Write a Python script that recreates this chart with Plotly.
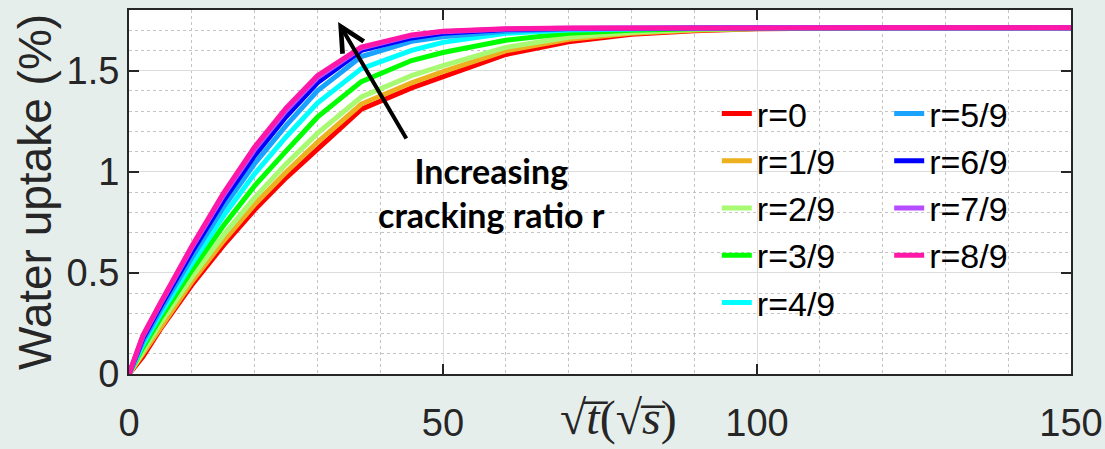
import plotly.graph_objects as go

# sqrt(t) sample points, in sqrt(s)
sqrt_t = [0, 2.2, 5, 10, 15, 20, 25, 30, 37, 45, 50, 60, 70, 80, 90, 100, 120, 150]

# water uptake (%) for each cracking ratio r
r_0 = [0, 0.085, 0.222, 0.440, 0.635, 0.812, 0.970, 1.110, 1.310, 1.415, 1.470, 1.580, 1.643, 1.680, 1.698, 1.707, 1.712, 1.712]
r_1 = [0, 0.100, 0.236, 0.456, 0.656, 0.838, 0.998, 1.145, 1.335, 1.440, 1.495, 1.598, 1.655, 1.685, 1.700, 1.708, 1.712, 1.712]
r_2 = [0, 0.110, 0.252, 0.478, 0.685, 0.872, 1.038, 1.190, 1.370, 1.475, 1.525, 1.615, 1.665, 1.690, 1.703, 1.709, 1.712, 1.712]
r_3 = [0, 0.130, 0.275, 0.512, 0.732, 0.930, 1.102, 1.270, 1.446, 1.550, 1.590, 1.650, 1.685, 1.700, 1.707, 1.710, 1.712, 1.712]
r_4 = [0, 0.145, 0.295, 0.545, 0.780, 0.990, 1.172, 1.340, 1.510, 1.600, 1.640, 1.685, 1.701, 1.708, 1.711, 1.712, 1.712, 1.712]
r_5 = [0, 0.160, 0.315, 0.575, 0.822, 1.040, 1.228, 1.400, 1.570, 1.645, 1.668, 1.695, 1.706, 1.710, 1.712, 1.712, 1.712, 1.712]
r_6 = [0, 0.175, 0.333, 0.602, 0.855, 1.080, 1.272, 1.440, 1.600, 1.662, 1.685, 1.703, 1.709, 1.711, 1.712, 1.712, 1.712, 1.712]
r_7 = [0, 0.185, 0.346, 0.624, 0.882, 1.110, 1.302, 1.465, 1.612, 1.673, 1.693, 1.706, 1.710, 1.712, 1.712, 1.712, 1.712, 1.712]
r_8 = [0, 0.190, 0.352, 0.632, 0.892, 1.122, 1.315, 1.475, 1.617, 1.677, 1.695, 1.707, 1.711, 1.712, 1.712, 1.712, 1.712, 1.712]

series = [r_0, r_1, r_2, r_3, r_4, r_5, r_6, r_7, r_8]
names = ["r=0", "r=1/9", "r=2/9", "r=3/9", "r=4/9", "r=5/9", "r=6/9", "r=7/9", "r=8/9"]
colors = ["#FF0000", "#EDB120", "#A8FA72", "#00FF00", "#00FFFF",
          "#19A3FF", "#0000FF", "#B54DFF", "#FF17A8"]

INK = "#262626"
BG = "#E6EEEC"
SANS = "Liberation Sans"

fig = go.Figure()
for i, (name, ys, col) in enumerate(zip(names, series, colors)):
    fig.add_trace(go.Scatter(
        x=sqrt_t, y=ys, mode="lines", name=name,
        line=dict(color=col, width=5),
        legend="legend" if i < 5 else "legend2",
        legendgroup=name,
    ))

axis_common = dict(
    ticks="inside", ticklen=10, tickwidth=2, tickcolor=INK,
    showline=True, linewidth=2, linecolor=INK, mirror="ticks",
    showgrid=True, gridcolor="#DCDCDC", gridwidth=1,
    zeroline=False, automargin=False,
    tickfont=dict(family=SANS, size=38, color=INK),
)

fig.update_xaxes(
    range=[0, 150], tick0=0, dtick=50, ticklabelstandoff=14,
    minor=dict(dtick=10, showgrid=True, gridcolor="#C4C4C4", griddash="dot", gridwidth=1),
    **axis_common,
)
fig.update_yaxes(
    range=[0, 1.8], tick0=0, dtick=0.5,
    minor=dict(dtick=0.1, showgrid=True, gridcolor="#C4C4C4", griddash="dot", gridwidth=1),
    title=dict(text="Water uptake (%)",
               font=dict(family=SANS, size=46, color=INK),
               standoff=0),
    **axis_common,
)

legend_common = dict(
    bgcolor="rgba(0,0,0,0)", borderwidth=0,
    font=dict(family=SANS, size=34, color="#000000"),
    xanchor="left", yanchor="top", tracegroupgap=0, traceorder="grouped",
)

fig.update_layout(
    width=1105, height=449,
    margin=dict(l=129, r=34, t=10, b=75, autoexpand=False),
    paper_bgcolor=BG, plot_bgcolor="#FFFFFF",
    showlegend=True,
    legend=dict(x=0.624, y=0.794, **legend_common),
    legend2=dict(x=0.807, y=0.794, **legend_common),
    annotations=[
        # x-axis title: sqrt(t) in sqrt(s)
        dict(x=0.52, y=-0.122, xref="paper", yref="paper",
             text="√<i>t̅</i>(√<i>s̅</i>)", showarrow=False,
             xanchor="center", yanchor="middle",
             font=dict(family="Liberation Serif, serif", size=48, color=INK)),
        dict(x=57.8, y=0.897, xref="x", yref="y",
             text="<b>Increasing<br>cracking ratio r</b>", showarrow=False,
             align="center",
             font=dict(family="Lato, sans-serif", size=34, color="#000000")),
        dict(x=33.3, y=1.741, xref="x", yref="y",
             ax=44.3, ay=1.157, axref="x", ayref="y",
             text="", showarrow=True, arrowhead=5, arrowsize=1.2,
             arrowwidth=4, arrowcolor="#000000", standoff=0),
    ],
)

fig.write_html("out.html")
